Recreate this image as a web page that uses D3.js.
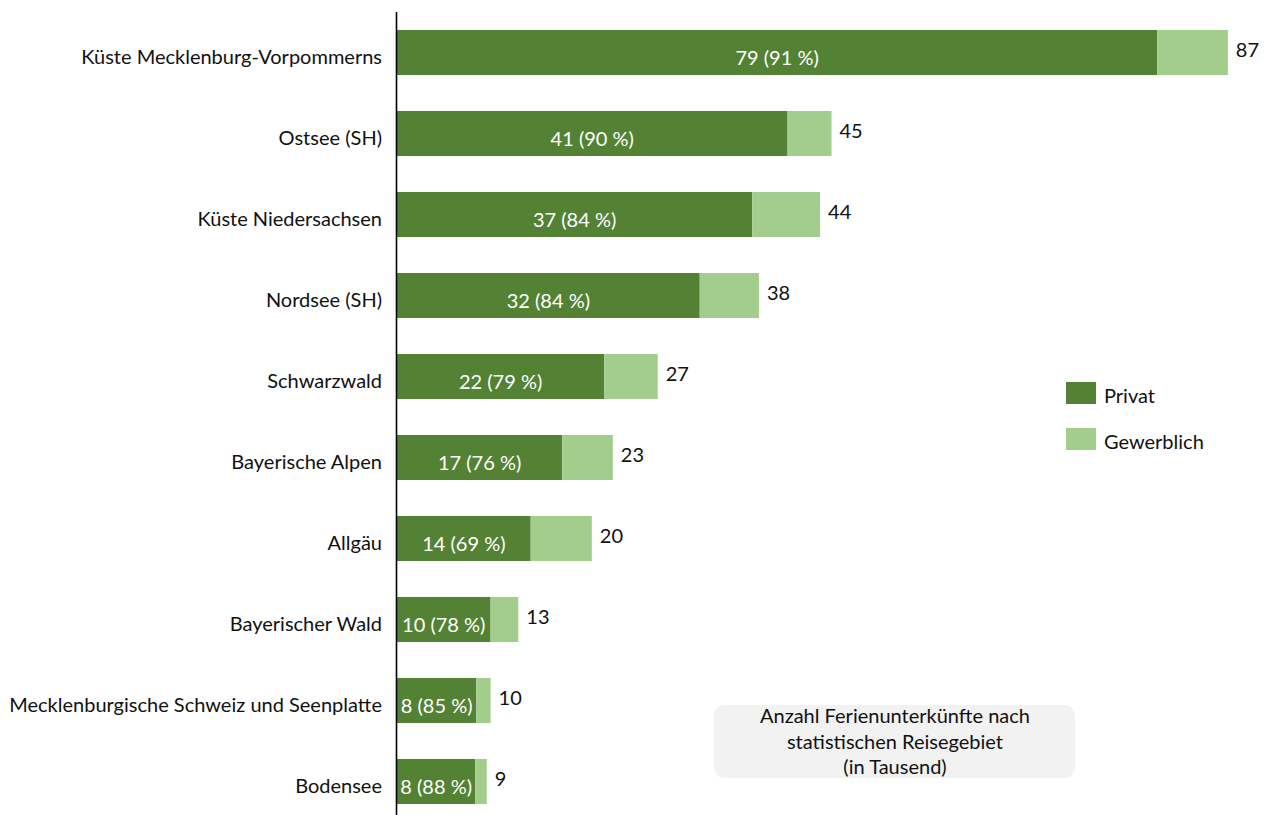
<!DOCTYPE html>
<html>
<head>
<meta charset="utf-8">
<script src="https://cdn.jsdelivr.net/npm/d3@7"></script>
<style>
  html, body { margin: 0; padding: 0; background: #fff; }
  svg { display: block; font-family: Lato, "Open Sans", sans-serif; }
</style>
</head>
<body>
<div id="chart"></div>
<script>
const regions = [
  'Küste Mecklenburg-Vorpommerns', 'Ostsee (SH)', 'Küste Niedersachsen', 'Nordsee (SH)',
  'Schwarzwald', 'Bayerische Alpen', 'Allgäu', 'Bayerischer Wald',
  'Mecklenburgische Schweiz und Seenplatte', 'Bodensee'
];
// bar lengths in thousand
const privat = [79.6, 40.9, 37.2, 31.7, 21.7, 17.3, 14.0, 9.8, 8.3, 8.2];
const gewerblich = [7.4, 4.6, 7.1, 6.2, 5.6, 5.3, 6.4, 2.9, 1.5, 1.2];
// printed labels
const privatLabel = [79, 41, 37, 32, 22, 17, 14, 10, 8, 8];
const anteil = [91, 90, 84, 84, 79, 76, 69, 78, 85, 88];
const gesamt = [87, 45, 44, 38, 27, 23, 20, 13, 10, 9];
const legendItems = ['Privat', 'Gewerblich'];
const noteLines = ['Anzahl Ferienunterkünfte nach', 'statistischen Reisegebiet', '(in Tausend)'];

const W = 1272, H = 815;
const colors = { Privat: '#548235', Gewerblich: '#a3cd8c' };
const fs = 20;

const svg = d3.select('#chart').append('svg').attr('width', W).attr('height', H);

const x = d3.scaleLinear().domain([0, 100]).range([397, 397 + 955]);
const y = d3.scaleBand().domain(regions).range([12, 822]).paddingInner(0.444).paddingOuter(0.222);

const rows = regions.map((r, i) => ({
  region: r, privat: privat[i], gewerblich: gewerblich[i],
  label: `${privatLabel[i]} (${anteil[i]} %)`, total: gesamt[i]
}));

const g = svg.append('g');

// private part
g.selectAll('.bar-p').data(rows).enter().append('rect')
  .attr('x', x(0)).attr('y', d => y(d.region))
  .attr('width', d => x(d.privat) - x(0)).attr('height', y.bandwidth())
  .attr('fill', colors.Privat);

// commercial part
g.selectAll('.bar-g').data(rows).enter().append('rect')
  .attr('x', d => x(d.privat)).attr('y', d => y(d.region))
  .attr('width', d => x(d.privat + d.gewerblich) - x(d.privat)).attr('height', y.bandwidth())
  .attr('fill', colors.Gewerblich);

// inner labels
g.selectAll('.lbl-in').data(rows).enter().append('text')
  .attr('x', d => (x(0) + x(d.privat)) / 2)
  .attr('y', d => y(d.region) + y.bandwidth() / 2 + 12.5)
  .attr('text-anchor', 'middle').attr('fill', '#fff').attr('font-size', fs)
  .text(d => d.label);

// totals
g.selectAll('.lbl-tot').data(rows).enter().append('text')
  .attr('x', d => x(d.privat + d.gewerblich) + 8)
  .attr('y', d => y(d.region) + y.bandwidth() / 2 + 4.5)
  .attr('fill', '#111').attr('font-size', fs)
  .text(d => d.total);

// category labels
g.selectAll('.lbl-cat').data(rows).enter().append('text')
  .attr('x', 382)
  .attr('y', d => y(d.region) + y.bandwidth() / 2 + 11.5)
  .attr('text-anchor', 'end').attr('fill', '#111').attr('font-size', fs)
  .text(d => d.region);

// axis line
svg.append('line').attr('x1', 396.5).attr('x2', 396.5).attr('y1', 12).attr('y2', H)
  .attr('stroke', '#000').attr('stroke-width', 1.6);

// legend
const leg = svg.append('g');
legendItems.forEach((k, i) => {
  const ly = 382 + i * 46;
  leg.append('rect').attr('x', 1066).attr('y', ly).attr('width', 30).attr('height', 22).attr('fill', colors[k]);
  leg.append('text').attr('x', 1104).attr('y', ly + 21).attr('font-size', fs).attr('fill', '#111').text(k);
});

// note box
const note = svg.append('g');
note.append('rect').attr('x', 714).attr('y', 705).attr('width', 361).attr('height', 73)
  .attr('rx', 10).attr('fill', '#f2f2f2');
noteLines.forEach((t, i) => {
  note.append('text').attr('x', 895).attr('y', 723 + i * 25.5)
    .attr('text-anchor', 'middle').attr('font-size', fs).attr('fill', '#111').text(t);
});
</script>
</body>
</html>
